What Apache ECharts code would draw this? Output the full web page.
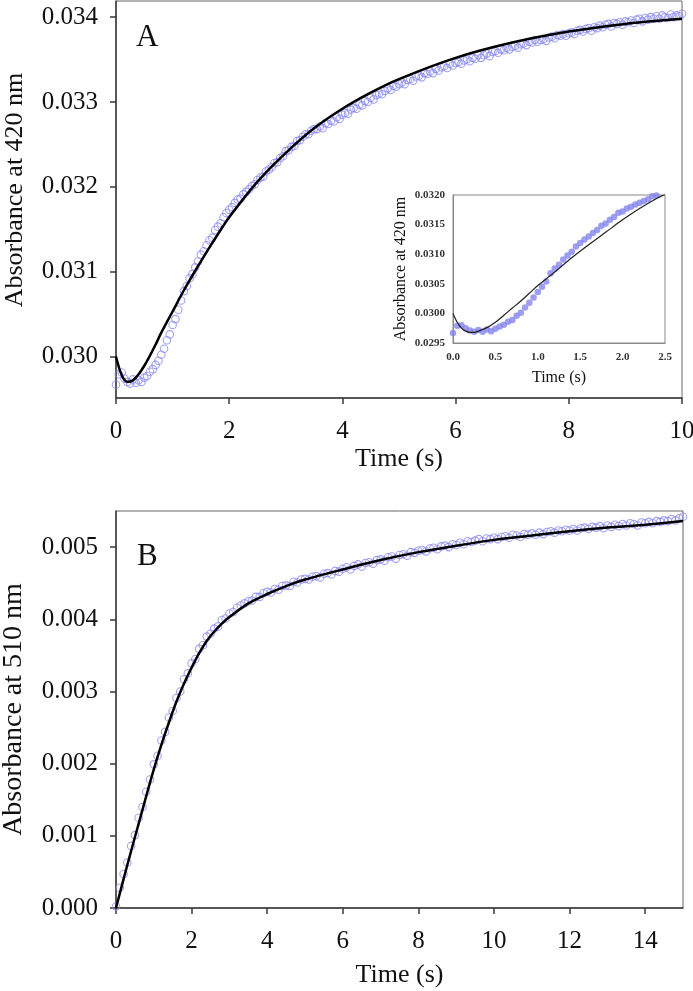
<!DOCTYPE html>
<html><head><meta charset="utf-8">
<script src="https://cdn.jsdelivr.net/npm/echarts@6/dist/echarts.min.js"></script>
<style>html,body{margin:0;padding:0;background:#fff}#c{width:693px;height:991px}</style>
</head><body><div id="c"></div>
<script>
// ---------- Panel A (420 nm), main ----------
const aSampleDt = 0.05;   // s between recorded points
const aObserved = [
0.02967,0.02979,0.02981,0.02974,0.02970,0.02968,0.02973,0.02969,0.02972,0.02970,
0.02975,0.02977,0.02982,0.02985,0.02990,0.02995,0.03002,0.03009,0.03019,0.03026,
0.03037,0.03044,0.03055,0.03066,0.03077,0.03083,0.03092,0.03097,0.03105,0.03112,
0.03120,0.03124,0.03131,0.03137,0.03140,0.03149,0.03153,0.03157,0.03164,0.03169,
0.03173,0.03176,0.03181,0.03185,0.03186,0.03191,0.03194,0.03197,0.03201,0.03203,
0.03208,0.03211,0.03212,0.03218,0.03220,0.03223,0.03228,0.03229,0.03234,0.03236,
0.03242,0.03243,0.03247,0.03248,0.03254,0.03255,0.03259,0.03262,0.03262,0.03266,
0.03268,0.03268,0.03271,0.03269,0.03275,0.03274,0.03278,0.03277,0.03282,0.03280,
0.03285,0.03287,0.03286,0.03291,0.03293,0.03292,0.03297,0.03296,0.03301,0.03300,
0.03305,0.03303,0.03308,0.03310,0.03309,0.03313,0.03316,0.03314,0.03319,0.03318,
0.03321,0.03323,0.03321,0.03326,0.03327,0.03325,0.03330,0.03331,0.03329,0.03334,
0.03333,0.03336,0.03334,0.03339,0.03337,0.03341,0.03342,0.03340,0.03345,0.03343,
0.03346,0.03347,0.03345,0.03349,0.03350,0.03348,0.03352,0.03351,0.03355,0.03352,
0.03355,0.03357,0.03354,0.03359,0.03360,0.03358,0.03362,0.03361,0.03364,0.03362,
0.03365,0.03366,0.03364,0.03368,0.03369,0.03367,0.03371,0.03370,0.03373,0.03371,
0.03373,0.03374,0.03372,0.03376,0.03377,0.03375,0.03379,0.03378,0.03380,0.03378,
0.03381,0.03382,0.03380,0.03384,0.03385,0.03383,0.03386,0.03387,0.03384,0.03388,
0.03387,0.03390,0.03388,0.03391,0.03392,0.03389,0.03393,0.03392,0.03394,0.03391,
0.03395,0.03394,0.03396,0.03393,0.03397,0.03398,0.03395,0.03399,0.03397,0.03400,
0.03398,0.03401,0.03398,0.03402,0.03400,0.03399,0.03403,0.03400,0.03402,0.03401,
0.03404];
const aFitTime  = [0,0.1,0.2,0.3,0.4,0.5,0.6,0.7,0.8,1.0,1.2,1.4,1.6,1.8,2.0,2.5,3,3.5,4,4.5,5,6,7,8,9,10];
const aFitValue = [0.03000,0.02978,0.02970,0.02972,0.02979,0.02989,0.03001,0.03014,0.03028,0.03053,0.03078,0.03101,0.03123,0.03144,0.03164,0.03206,0.03240,0.03269,0.03292,0.03311,0.03327,0.03352,0.03370,0.03383,0.03392,0.03398];
const aXTicks = [0,2,4,6,8,10];
const aYTicks = [0.030,0.031,0.032,0.033,0.034];

// ---------- Panel A inset ----------
const insetSampleDt = 0.05;
const insetObserved = [
0.02967,0.02979,0.02980,0.02975,0.02971,0.02969,0.02972,0.02969,0.02973,0.02970,
0.02974,0.02978,0.02981,0.02986,0.02989,0.02996,0.03001,0.03010,0.03018,0.03027,
0.03036,0.03045,0.03054,0.03068,0.03076,0.03082,0.03091,0.03098,0.03104,0.03113,
0.03119,0.03125,0.03130,0.03136,0.03141,0.03148,0.03152,0.03158,0.03163,0.03170,
0.03172,0.03177,0.03180,0.03184,0.03187,0.03190,0.03193,0.03198,0.03199];
const insetFitTime  = [0,0.05,0.1,0.15,0.2,0.25,0.3,0.4,0.5,0.6,0.7,0.8,0.9,1.0,1.2,1.4,1.6,1.8,2.0,2.2,2.4,2.5];
const insetFitValue = [0.03000,0.02985,0.02975,0.02970,0.02968,0.02968,0.02970,0.02976,0.02985,0.02997,0.03009,0.03021,0.03034,0.03047,0.03070,0.03094,0.03116,0.03137,0.03158,0.03177,0.03194,0.03201];
const insetXTicks = [0,0.5,1.0,1.5,2.0,2.5];
const insetYTicks = [0.0295,0.0300,0.0305,0.0310,0.0315,0.0320];

// ---------- Panel B (510 nm) ----------
const bSampleDt = 0.1;
const bObserved = [
0.00002,0.00028,0.00047,0.00063,0.00086,0.00101,0.00125,0.00140,0.00161,0.00178,
0.00199,0.00211,0.00232,0.00244,0.00264,0.00273,0.00291,0.00300,0.00317,0.00325,
0.00339,0.00345,0.00359,0.00364,0.00376,0.00380,0.00387,0.00390,0.00399,0.00401,
0.00408,0.00410,0.00416,0.00419,0.00422,0.00425,0.00426,0.00431,0.00431,0.00436,
0.00438,0.00437,0.00442,0.00441,0.00446,0.00447,0.00446,0.00452,0.00451,0.00455,
0.00456,0.00455,0.00459,0.00460,0.00458,0.00463,0.00464,0.00462,0.00467,0.00466,
0.00470,0.00472,0.00469,0.00474,0.00476,0.00473,0.00478,0.00479,0.00477,0.00482,
0.00483,0.00481,0.00486,0.00487,0.00484,0.00489,0.00490,0.00488,0.00493,0.00492,
0.00495,0.00496,0.00494,0.00498,0.00499,0.00497,0.00501,0.00502,0.00500,0.00504,
0.00503,0.00506,0.00504,0.00508,0.00507,0.00509,0.00511,0.00508,0.00512,0.00511,
0.00513,0.00511,0.00514,0.00515,0.00513,0.00517,0.00516,0.00514,0.00518,0.00517,
0.00519,0.00517,0.00520,0.00518,0.00521,0.00522,0.00520,0.00523,0.00522,0.00524,
0.00523,0.00525,0.00523,0.00526,0.00527,0.00525,0.00528,0.00527,0.00529,0.00526,
0.00530,0.00528,0.00531,0.00529,0.00532,0.00530,0.00533,0.00532,0.00530,0.00534,
0.00533,0.00535,0.00533,0.00536,0.00535,0.00537,0.00536,0.00539,0.00537,0.00540,
0.00542];
const bFitTime  = [0,0.2,0.4,0.6,0.8,1.0,1.2,1.4,1.6,1.8,2.0,2.2,2.4,2.6,2.8,3.0,3.5,4.0,4.5,5,6,7,8,9,10,11,12,13,14,15];
const bFitValue = [0,0.00040,0.00079,0.00117,0.00155,0.00192,0.00226,0.00257,0.00286,0.00311,0.00333,0.00353,0.00370,0.00383,0.00394,0.00403,0.00422,0.00435,0.00446,0.00455,0.00469,0.00482,0.00493,0.00502,0.00510,0.00516,0.00522,0.00527,0.00531,0.00536];
const bXTicks = [0,2,4,6,8,10,12,14];
const bYTicks = [0,0.001,0.002,0.003,0.004,0.005];

// ---------- build ----------
const pairsFromDt = (vals, dt) => vals.map((v, i) => [+(i * dt).toFixed(3), v]);
const zip = (xs, ys) => xs.map((x, i) => [x, ys[i]]);

const FONT = 'Liberation Serif';
const mainAxisLine = { show: true, lineStyle: { color: '#3a3a3a', width: 1.5 } };
const mainTick = { show: true, inside: false, length: 6, lineStyle: { color: '#3a3a3a', width: 1.5 } };
const mainLabel = { fontFamily: FONT, fontSize: 25, color: '#111' };

function mainX(gi, min, max, ticks, gap) {
  return {
    gridIndex: gi, type: 'value', min: min, max: max,
    axisLine: mainAxisLine,
    axisTick: Object.assign({}, mainTick, { customValues: ticks }),
    axisLabel: Object.assign({}, mainLabel, { margin: 21, customValues: ticks, formatter: v => String(v) }),
    splitLine: { show: false },
    name: 'Time (s)', nameLocation: 'middle', nameGap: gap,
    nameTextStyle: { fontFamily: FONT, fontSize: 26, color: '#111' }
  };
}
function mainY(gi, min, max, ticks, name, gap, nameSize, pad) {
  return {
    gridIndex: gi, type: 'value', min: min, max: max,
    axisLine: mainAxisLine,
    axisTick: Object.assign({}, mainTick, { customValues: ticks }),
    axisLabel: Object.assign({}, mainLabel, { margin: 18, customValues: ticks, formatter: v => v.toFixed(3) }),
    splitLine: { show: false },
    name: name, nameLocation: 'middle', nameGap: gap, nameRotate: 90,
    nameTextStyle: { fontFamily: FONT, fontSize: nameSize, color: '#111', padding: pad }
  };
}

const insetAxisLine = { show: true, lineStyle: { color: '#888', width: 1 } };
const insetLabel = { fontFamily: FONT, fontSize: 11, fontWeight: 'bold', color: '#333' };
const openCircle = { color: 'rgba(255,255,255,0)', borderColor: '#8a8af0', borderWidth: 1.1 };

const option = {
  backgroundColor: '#fff',
  animation: false,
  grid: [
    { left: 116, top: 1, width: 566, height: 397, show: true, borderColor: '#666', borderWidth: 1, backgroundColor: '#fff', outerBoundsMode: 'none', containLabel: false },
    { left: 453, top: 195, width: 212, height: 148, show: true, borderColor: '#888', borderWidth: 1, backgroundColor: '#fff', outerBoundsMode: 'none', containLabel: false },
    { left: 116, top: 511, width: 567, height: 397, show: true, borderColor: '#666', borderWidth: 1, backgroundColor: '#fff', outerBoundsMode: 'none', containLabel: false }
  ],
  xAxis: [
    mainX(0, 0, 10, aXTicks, 48),
    {
      gridIndex: 1, type: 'value', min: 0, max: 2.5,
      axisLine: insetAxisLine, axisTick: { show: false },
      axisLabel: Object.assign({}, insetLabel, { margin: 9, customValues: insetXTicks, formatter: v => v.toFixed(1) }),
      splitLine: { show: false },
      name: 'Time (s)', nameLocation: 'middle', nameGap: 27,
      nameTextStyle: { fontFamily: FONT, fontSize: 16, color: '#111' }
    },
    mainX(2, 0, 15, bXTicks, 54)
  ],
  yAxis: [
    mainY(0, 0.02951, 0.03419, aYTicks, 'Absorbance at 420 nm', 88, 26, [0, 0, 0, 19]),
    {
      gridIndex: 1, type: 'value', min: 0.0295, max: 0.0320,
      axisLine: insetAxisLine, axisTick: { show: false },
      axisLabel: Object.assign({}, insetLabel, { margin: 8, customValues: insetYTicks, formatter: v => v.toFixed(4) }),
      splitLine: { show: false },
      name: 'Absorbance at 420 nm', nameLocation: 'middle', nameGap: 44, nameRotate: 90,
      nameTextStyle: { fontFamily: FONT, fontSize: 16, color: '#111' }
    },
    mainY(2, 0, 0.0055, bYTicks, 'Absorbance at 510 nm', 88, 28, 0)
  ],
  graphic: [
    { type: 'text', left: 136, top: 22, style: { text: 'A', fontFamily: FONT, fontSize: 31, fill: '#111' } },
    { type: 'text', left: 137, top: 541, style: { text: 'B', fontFamily: FONT, fontSize: 31, fill: '#111' } }
  ],
  series: [
    { type: 'scatter', xAxisIndex: 0, yAxisIndex: 0, symbol: 'circle', symbolSize: 7.5,
      itemStyle: openCircle, data: pairsFromDt(aObserved, aSampleDt), z: 2 },
    { type: 'line', xAxisIndex: 0, yAxisIndex: 0, showSymbol: false, smooth: 0.3,
      lineStyle: { color: '#000', width: 2.5 }, data: zip(aFitTime, aFitValue), z: 3 },
    { type: 'scatter', xAxisIndex: 1, yAxisIndex: 1, symbol: 'circle', symbolSize: 6.5,
      itemStyle: { color: '#8585ee' }, data: pairsFromDt(insetObserved, insetSampleDt), z: 4 },
    { type: 'line', xAxisIndex: 1, yAxisIndex: 1, showSymbol: false, smooth: 0.3,
      lineStyle: { color: '#222', width: 1.2 }, data: zip(insetFitTime, insetFitValue), z: 5 },
    { type: 'scatter', xAxisIndex: 2, yAxisIndex: 2, symbol: 'circle', symbolSize: 7.5,
      itemStyle: openCircle, data: pairsFromDt(bObserved, bSampleDt), z: 2 },
    { type: 'line', xAxisIndex: 2, yAxisIndex: 2, showSymbol: false, smooth: 0.3,
      lineStyle: { color: '#000', width: 2.5 }, data: zip(bFitTime, bFitValue), z: 3 }
  ]
};
const chart = echarts.init(document.getElementById('c'), null, { renderer: 'canvas' });
chart.setOption(option);
</script></body></html>
